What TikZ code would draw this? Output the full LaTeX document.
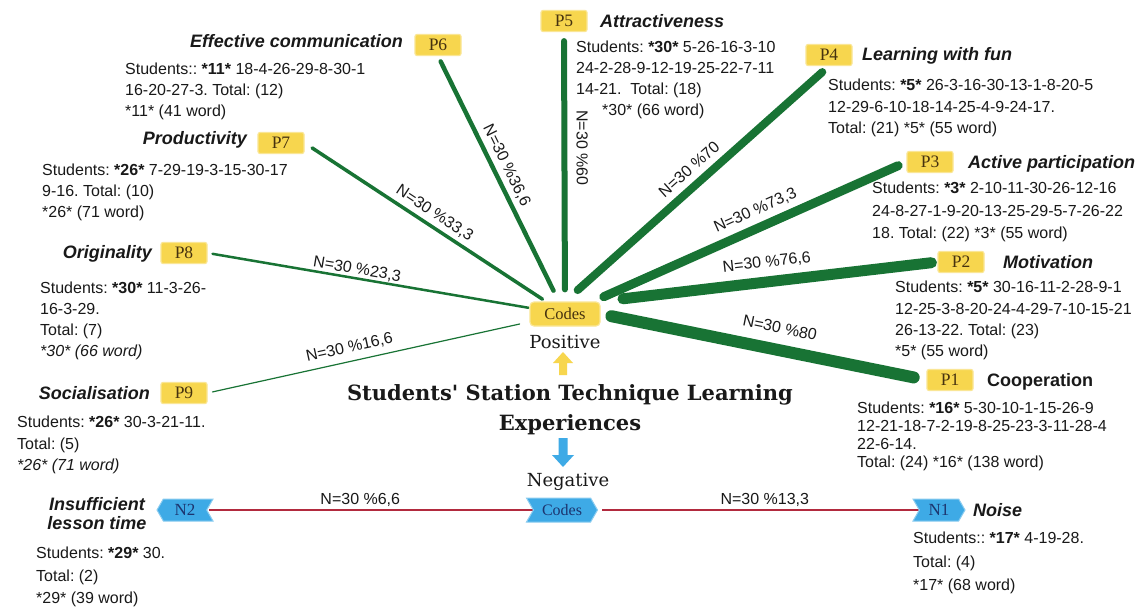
\documentclass[tikz,border=0pt]{standalone}
\usepackage{fontspec}
\setmainfont{Liberation Sans}
\newfontfamily\tagserif{Liberation Serif}
\newfontfamily\headserif{DejaVu Serif}
\usetikzlibrary{shapes.symbols,backgrounds}

\definecolor{codegreen}{RGB}{24,115,52}
\definecolor{negred}{RGB}{178,42,62}
\definecolor{posyellow}{RGB}{247,214,78}
\definecolor{negblue}{RGB}{62,170,230}
\definecolor{navytext}{RGB}{28,52,110}
\definecolor{browntext}{RGB}{70,50,15}
\definecolor{bodytext}{RGB}{25,25,25}

\newcommand\firststrut{\rule{0pt}{12pt}}
\frenchspacing

\begin{document}
\begin{tikzpicture}[x=1pt,y=-1pt,
  body/.style={anchor=north west, inner sep=0pt, align=left, text=bodytext,
    font=\fontsize{16}{#1}\selectfont},
  body/.default=21,
  ttl/.style={inner sep=0pt, text=bodytext,
    font=\bfseries\itshape\fontsize{18}{19}\selectfont},
  ptag/.style={fill=posyellow, draw=posyellow!60, line width=1.2pt,
    rounded corners=2pt, minimum width=46pt, minimum height=21pt,
    inner sep=0pt, text=browntext, font=\tagserif\fontsize{17.5}{17.5}\selectfont},
  ntag/.style={signal, fill=negblue, draw=negblue!60, line width=1pt,
    minimum height=22pt, inner sep=0pt, signal pointer angle=120,
    text=navytext, font=\tagserif\fontsize{17}{17}\selectfont},
  lbl/.style={sloped, inner sep=0pt, text height=11.5pt, text depth=2.5pt,
    text=bodytext, font=\fontsize{16}{16}\selectfont},
  posline/.style={draw=codegreen, line cap=round},
  negline/.style={draw=negred, line width=1.6pt},
]
\useasboundingbox (0,0) rectangle (1143,607);

% central code boxes
\node[fill=posyellow, draw=posyellow!60, line width=1.2pt, rounded corners=4pt,
  minimum width=70pt, minimum height=24pt, inner sep=0pt, text=browntext,
  font=\tagserif\fontsize{16.5}{16.5}\selectfont] (codes) at (565,314) {Codes};
\node[font=\headserif\fontsize{18}{18}\selectfont, inner sep=0pt, anchor=base,
  text=bodytext] (positive) at (565,348) {Positive};
\node[font=\headserif\bfseries\fontsize{21}{30}\selectfont, align=center,
  inner sep=0pt, text=bodytext] (title) at (570,410)
  {Students\textquotesingle{} Station Technique Learning\\Experiences};
\node[font=\headserif\fontsize{18}{18}\selectfont, inner sep=0pt, anchor=base,
  text=bodytext] (negative) at (568,486) {Negative};
\node[ntag, signal from=west, signal to=east, minimum width=71pt, minimum height=24pt,
  font=\tagserif\fontsize{16}{16}\selectfont] (codesneg) at (562,510) {Codes};

% block arrows from the title to both code groups
\fill[posyellow] (559,375) -- (559,363) -- (553,363) -- (563,352) -- (573,363)
  -- (567,363) -- (567,375) -- cycle;
\fill[negblue] (558.5,438) -- (558.5,455) -- (552,455) -- (563,467) -- (574,455)
  -- (567.5,455) -- (567.5,438) -- cycle;

% positive code tags
\node[ptag] (p1) at (950,380) {P1};
\node[ptag] (p2) at (961,262) {P2};
\node[ptag] (p3) at (930,162) {P3};
\node[ptag] (p4) at (829,55) {P4};
\node[ptag] (p5) at (564,21) {P5};
\node[ptag] (p6) at (438,45) {P6};
\node[ptag] (p7) at (281,143) {P7};
\node[ptag] (p8) at (184,253) {P8};
\node[ptag] (p9) at (184,393) {P9};

% negative code tags
\node[ntag, signal from=west, signal to=east, minimum width=52pt] (n1) at (939,510) {N1};
\node[ntag, signal from=east, signal to=west, minimum width=56pt] (n2) at (185,510) {N2};

% code titles
\node[ttl, anchor=base east] (t6) at (403,48) {Effective communication};
\node[ttl, anchor=base east] (t7) at (247,145) {Productivity};
\node[ttl, anchor=base east] (t8) at (152,258) {Originality};
\node[ttl, anchor=base east] (t9) at (150,399) {Socialisation};
\node[ttl, align=center, anchor=north] (tn2) at (97,497) {\rule{0pt}{12.9pt}Insufficient\\lesson time};
\node[ttl, anchor=base west] (t5) at (600,28) {Attractiveness};
\node[ttl, anchor=base west] (t4) at (862,61) {Learning with fun};
\node[ttl, anchor=base west] (t3) at (968,168) {Active participation};
\node[ttl, anchor=base west] (t2) at (1003,268) {Motivation};
\node[ttl, anchor=base west, font=\bfseries\fontsize{18}{19}\selectfont] (t1) at (987,386) {Cooperation};
\node[ttl, anchor=base west] (tn1) at (973,516) {Noise};

% student lists
\node[body] (b6) at (125,62.7) {\firststrut Students:: \textbf{*11*} 18-4-26-29-8-30-1\\16-20-27-3. Total: (12)\\*11* (41 word)};
\node[body] (b7) at (42,163.7) {\firststrut Students: \textbf{*26*} 7-29-19-3-15-30-17\\9-16. Total: (10)\\*26* (71 word)};
\node[body] (b8) at (40,281.7) {\firststrut Students: \textbf{*30*} 11-3-26-\\16-3-29.\\Total: (7)\\\textit{*30* (66 word)}};
\node[body=21.5] (b9) at (17,415.7) {\firststrut Students: \textbf{*26*} 30-3-21-11.\\Total: (5)\\\textit{*26* (71 word)}};
\node[body=22.5] (bn2) at (36,546.7) {\firststrut Students: \textbf{*29*} 30.\\Total: (2)\\*29* (39 word)};
\node[body] (b5) at (576,40.7) {\firststrut Students: \textbf{*30*} 5-26-16-3-10\\24-2-28-9-12-19-25-22-7-11\\14-21.\ \ Total: (18)\\\hspace*{26pt}*30* (66 word)};
\node[body=21.5] (b4) at (828,78.7) {\firststrut Students: \textbf{*5*} 26-3-16-30-13-1-8-20-5\\12-29-6-10-18-14-25-4-9-24-17.\\Total: (21) *5* (55 word)};
\node[body=22.5] (b3) at (872,181.7) {\firststrut Students: \textbf{*3*} 2-10-11-30-26-12-16\\24-8-27-1-9-20-13-25-29-5-7-26-22\\18. Total: (22) *3* (55 word)};
\node[body=21.3] (b2) at (895,280.7) {\firststrut Students: \textbf{*5*} 30-16-11-2-28-9-1\\12-25-3-8-20-24-4-29-7-10-15-21\\26-13-22. Total: (23)\\*5* (55 word)};
\node[body=18] (b1) at (857,401.7) {\firststrut Students: \textbf{*16*} 5-30-10-1-15-26-9\\12-21-18-7-2-19-8-25-23-3-11-28-4\\22-6-14.\\Total: (24) *16* (138 word)};
\node[body=23.5] (bn1) at (913,531.7) {\firststrut Students:: \textbf{*17*} 4-19-28.\\Total: (4)\\*17* (68 word)};

% connectors
\begin{scope}[on background layer]
\fill[white] (0,0) rectangle (1143,607);
\draw[posline, line width=12pt, shorten <=11pt, shorten >=13pt] (codes.east) -- (p1.west)
  node[lbl, pos=0.537, above=8pt] {N=30 \%80};
\draw[posline, line width=11pt, shorten <=22.5pt, shorten >=6pt] (codes.north east) -- (p2.west)
  node[lbl, pos=0.50, above=6.6pt] {N=30 \%76,6};
\draw[posline, line width=9pt, shorten <=11.5pt, shorten >=9pt] (codes) -- (p3.west)
  node[lbl, pos=0.54, above=5.5pt] {N=30 \%73,3};
\draw[posline, line width=8pt, shorten <=17pt, shorten >=9pt] (codes.north) -- (p4.south)
  node[lbl, pos=0.51, above=4pt] {N=30 \%70};
\draw[posline, line width=6pt, shorten <=9pt, shorten >=12pt] (p5.south) -- (codes)
  node[lbl, pos=0.43, above=6.75pt] {N=30 \%60};
\draw[posline, line width=4.5pt, shorten <=12pt, shorten >=6pt] (codes) -- (p6.south)
  node[lbl, pos=0.53, above=3.8pt] {N=30 \%36,6};
\draw[posline, line width=3.5pt, shorten <=4pt, shorten >=9pt] (codes) -- (p7.east)
  node[lbl, pos=0.49, above=3.8pt] {N=30 \%33,3};
\draw[posline, line width=2.5pt, shorten <=1pt, shorten >=5pt] (codes) -- (p8.east)
  node[lbl, pos=0.54, above=0.5pt] {N=30 \%23,3};
\draw[posline, line width=1.2pt, shorten <=10pt, shorten >=5pt] (codes) -- (p9.east)
  node[lbl, pos=0.55, above=5.8pt] {N=30 \%16,6};
\draw[negline, shorten <=2pt] (n2.east) -- (codesneg.west)
  node[lbl, pos=0.47, above=1.75pt] {N=30 \%6,6};
\draw[negline, shorten <=4pt] (codesneg.east) -- (n1.west)
  node[lbl, pos=0.52, above=2pt] {N=30 \%13,3};
\end{scope}
\end{tikzpicture}
\end{document}
